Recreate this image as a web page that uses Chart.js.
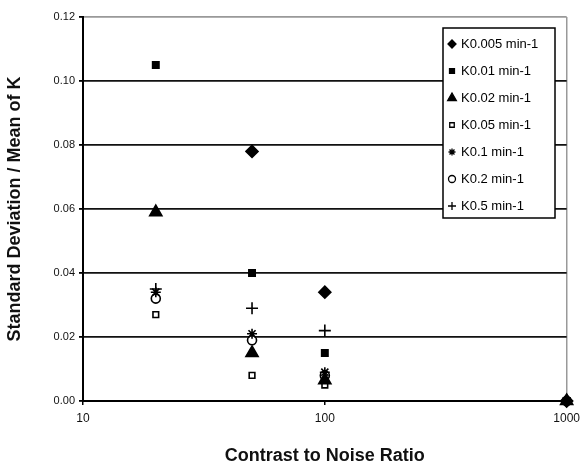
<!DOCTYPE html>
<html><head><meta charset="utf-8">
<script src="https://cdn.jsdelivr.net/npm/chart.js@4"></script>
<style>html,body{margin:0;padding:0;background:#fff}#w{width:586px;height:471px}</style>
</head><body><div id="w"><canvas id="c"></canvas></div>
<script>
const cnr = [20, 50, 100, 1000];
const seriesNames = ['K0.005 min-1','K0.01 min-1','K0.02 min-1','K0.05 min-1','K0.1 min-1','K0.2 min-1','K0.5 min-1'];
const k0005 = [null, 0.078, 0.034, 0];
const k001 = [0.105, 0.040, 0.015, 0];
const k002 = [0.059, 0.015, 0.0065, 0];
const k005 = [0.027, 0.008, 0.005, 0];
const k01 = [0.034, 0.021, 0.009, 0];
const k02 = [0.032, 0.019, 0.008, 0];
const k05 = [0.035, 0.029, 0.022, 0];
const yTicks = [0, 0.02, 0.04, 0.06, 0.08, 0.10, 0.12];
const xTicks = [10, 100, 1000];

const values = [k0005, k001, k002, k005, k01, k02, k05];
const styles = [
  {pointStyle:'rectRot', r:6, fill:'#000', lr:4},
  {pointStyle:'rect', r:4.5, fill:'#000', lr:3.5},
  {pointStyle:'triangle', r:7, fill:'#000', lr:5},
  {pointStyle:'rect', r:4, fill:'#fff', lr:3.2},
  {pointStyle:'star', r:5, fill:'#fff', lr:3.5},
  {pointStyle:'circle', r:4.5, fill:'#fff', lr:3.5},
  {pointStyle:'cross', r:6, fill:'#fff', lr:4}
];
const datasets = values.map((v,i)=>({
  label: seriesNames[i],
  data: cnr.map((x,j)=>({x:x, y:v[j]})).filter(p=>p.y!==null),
  showLine:false,
  clip:false,
  pointStyle: styles[i].pointStyle,
  pointRadius: styles[i].r,
  pointHoverRadius: styles[i].r,
  pointBackgroundColor: styles[i].fill,
  pointBorderColor:'#000',
  pointBorderWidth: 1.6
}));

const legendBox = {
  id:'legendBox',
  afterDatasetsDraw(chart){
    const ctx = chart.ctx;
    const x0=443, y0=28, w=112, h=190;
    ctx.save();
    ctx.fillStyle='#fff';
    ctx.fillRect(x0,y0,w,h);
    ctx.strokeStyle='#000'; ctx.lineWidth=1.5;
    ctx.strokeRect(x0,y0,w,h);
    ctx.font='13px "Liberation Sans", Arial, sans-serif';
    ctx.textBaseline='middle';
    ctx.fillStyle='#000';
    seriesNames.forEach((n,i)=>{
      const cy = y0+16+i*27;
      ctx.fillStyle=styles[i].fill; ctx.strokeStyle='#000'; ctx.lineWidth=1.3;
      Chart.helpers.drawPoint(ctx,{pointStyle:styles[i].pointStyle, radius:styles[i].lr, borderWidth:1.3},x0+9,cy);
      ctx.fillStyle='#000';
      ctx.fillText(n, x0+18, cy);
    });
    ctx.restore();
  }
};

new Chart(document.getElementById('c'),{
  type:'scatter',
  data:{datasets},
  options:{
    responsive:true, maintainAspectRatio:false, animation:false,
    layout:{padding:{top:17,right:18,left:0,bottom:0}},
    plugins:{legend:{display:false}, tooltip:{enabled:false}},
    scales:{
      x:{
        type:'logarithmic', min:10, max:1000,
        afterBuildTicks(s){ s.ticks = xTicks.map(v=>({value:v})); },
        afterFit(s){ s.height = 70; },
        ticks:{ callback:(v)=>String(v), color:'#111', maxRotation:0, padding:6,
          font:{family:'"Liberation Sans", Arial, sans-serif', size:12} },
        grid:{ color:(c)=> (c.tick && c.tick.value===1000) ? '#999' : 'rgba(0,0,0,0)',
          tickColor:'#000', tickLength:4, lineWidth:1.5 },
        border:{color:'#000', width:2},
        title:{display:true, text:'Contrast to Noise Ratio', color:'#111',
          font:{family:'"Liberation Sans", Arial, sans-serif', size:18, weight:'bold'}, padding:{top:12}}
      },
      y:{
        min:0, max:0.12,
        afterBuildTicks(s){ s.ticks = yTicks.map(v=>({value:v})); },
        afterFit(s){ s.width = 83; },
        ticks:{ callback:(v)=>v.toFixed(2), color:'#111', padding:4,
          font:{family:'"Liberation Sans", Arial, sans-serif', size:11} },
        grid:{ color:(c)=> (c.tick && Math.abs(c.tick.value-0.12)<1e-9) ? '#999' : '#111',
          tickColor:'#000', tickLength:4, lineWidth:1.8 },
        border:{color:'#000', width:2},
        title:{display:true, text:'Standard Deviation / Mean of K', color:'#111',
          font:{family:'"Liberation Sans", Arial, sans-serif', size:18, weight:'bold'}, padding:{bottom:2}}
      }
    }
  },
  plugins:[legendBox]
});
</script></body></html>
